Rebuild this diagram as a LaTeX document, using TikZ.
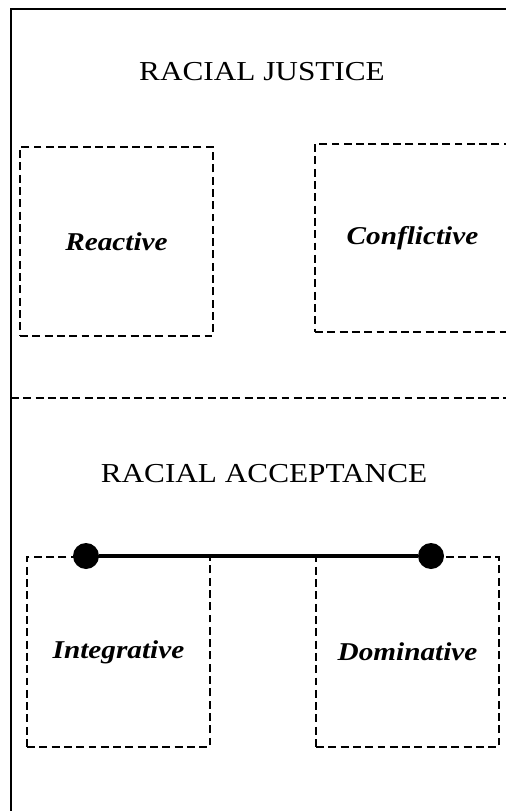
\documentclass[tikz,border=0pt]{standalone}
\usepackage{fontspec}
\setmainfont{Liberation Serif}[FakeStretch=1.14]
\tikzset{
  frameln/.style={line width=1.1pt},
  dashln/.style={line width=0.85pt,dash pattern=on 4.5pt off 2.5pt},
  quadbox/.style={draw,dashln,inner sep=0pt,font=\fontsize{14.6}{17}\selectfont\bfseries\itshape},
  headtxt/.style={font=\fontsize{15.6}{18}\selectfont},
  endpt/.style={circle,fill,inner sep=0pt,minimum size=0.52cm},
}

\begin{document}
\begin{tikzpicture}[x=0.02cm,y=-0.02cm]
    \useasboundingbox (0,0) rectangle (506,811);
    \draw[frameln] (11,820) -- (11,9) -- (515,9);
    % upper half
    \node[headtxt] (justice) at (262,72) {RACIAL JUSTICE};
    \node[quadbox,minimum width=3.86cm,minimum height=3.78cm] (reactive) at (116.5,241.5) {Reactive};
    \node[quadbox,minimum width=3.9cm,minimum height=3.76cm] (conflictive) at (412.5,238) {Conflictive};
    \draw[dashln] (11,398) -- (515,398);
    % lower half
    \node[headtxt] (acceptance) at (264,474) {RACIAL ACCEPTANCE};
    \node[quadbox,minimum width=3.66cm,minimum height=3.8cm] (integrative) at (118.5,652) {Integrative};
    \node[quadbox,minimum width=3.66cm,minimum height=3.8cm] (dominative) at (407.5,652) {Dominative};
    \node[endpt] (integend) at (86,556) {};
    \node[endpt] (domend) at (431,556) {};
    \draw[line width=2.4pt] (integend) -- (domend);
  \end{tikzpicture}
\end{document}
